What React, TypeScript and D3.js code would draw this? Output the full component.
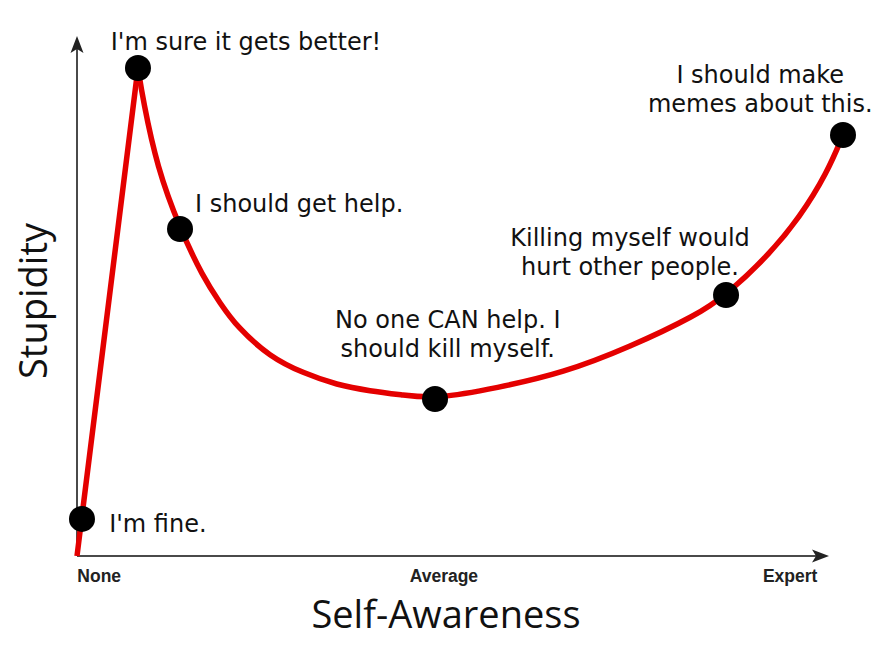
import React from "react";
import * as d3 from "d3";

// Data (x: self-awareness 0..100, y: stupidity 0..100)
const riseX = [0, 7.96];
const riseY = [0, 100];
const curveX = [7.96, 8.62, 10.44, 13.45, 16.45, 18.67, 20.89, 25.2, 29.5, 33.94, 38.25, 42.56, 46.74, 54.83, 63.45, 72.19, 80.94, 84.73, 90.08, 94.39, 97.91, 100];
const curveY = [100, 93.44, 79.71, 67.01, 57.17, 51.84, 46.93, 40.78, 37.5, 35.04, 33.81, 32.99, 32.17, 34.43, 37.5, 42.83, 49.39, 53.48, 61.27, 69.47, 78.48, 86.27];

const dotX = [0.65, 7.96, 13.45, 46.74, 84.73, 100];
const dotY = [7.6, 100, 67.01, 32.17, 53.48, 86.27];

const noteLines = [
  ["I'm fine."],
  ["I'm sure it gets better!"],
  ["I should get help."],
  ["No one CAN help. I", "should kill myself."],
  ["Killing myself would", "hurt other people."],
  ["I should make", "memes about this."],
];
const noteX = [4.2, 4.4, 15.4, 48.4, 72.2, 89.2];
const noteY = [4.9, 103.7, 70.5, 46.7, 63.5, 96.9];
const noteAnchor = ["start", "start", "start", "middle", "middle", "middle"];

const tickLabels = ["None", "Average", "Expert"];
const tickPos = [2.9, 47.9, 93.1];

const xTitle = "Self-Awareness";
const yTitle = "Stupidity";

const W = 894;
const H = 658;

export default function App() {
  const x = d3.scaleLinear().domain([0, 100]).range([77, 843]);
  const y = d3.scaleLinear().domain([0, 100]).range([556, 68]);

  const riseLine = d3
    .line<number>()
    .x((d) => x(riseX[d]))
    .y((d) => y(riseY[d]))
    .curve(d3.curveLinear);
  const mainLine = d3
    .line<number>()
    .x((d) => x(curveX[d]))
    .y((d) => y(curveY[d]))
    .curve(d3.curveBasis);

  const ox = x(0);
  const oy = y(0);
  const axisColor = "#4a4a4a";
  const red = "#e40000";
  const font = "'DejaVu Sans', sans-serif";

  return (
    <svg
      width={W}
      height={H}
      style={{ position: "absolute", left: 0, top: 0, background: "#fff" }}
    >
      <rect width={W} height={H} fill="#fff" />
      {/* axes */}
      <line x1={ox} y1={oy} x2={ox} y2={44} stroke={axisColor} strokeWidth={2} />
      <path
        d={`M${ox},36 L${ox + 6.5},53 L${ox},49 L${ox - 6.5},53 Z`}
        fill="#222"
      />
      <line x1={ox} y1={oy} x2={822} y2={oy} stroke={axisColor} strokeWidth={2} />
      <path
        d={`M829,${oy} L812,${oy - 6.5} L816,${oy} L812,${oy + 6.5} Z`}
        fill="#222"
      />
      {/* ticks */}
      {tickLabels.map((t, i) => (
        <text
          key={t}
          x={x(tickPos[i])}
          y={582}
          textAnchor="middle"
          fontFamily="'Liberation Sans', Arial, sans-serif"
          fontWeight="bold"
          fontSize={17.5}
          fill="#222"
        >
          {t}
        </text>
      ))}
      {/* titles */}
      <text
        x={446}
        y={628}
        textAnchor="middle"
        fontFamily="'Open Sans', sans-serif"
        fontSize={38}
        fill="#111"
      >
        {xTitle}
      </text>
      <text
        transform={`translate(47,301) rotate(-90)`}
        textAnchor="middle"
        fontFamily="'Open Sans', sans-serif"
        fontSize={38}
        fill="#111"
      >
        {yTitle}
      </text>
      {/* curve */}
      <path
        d={riseLine(riseX.map((_, i) => i)) || ""}
        fill="none"
        stroke={red}
        strokeWidth={5.5}
        strokeLinejoin="round"
      />
      <path
        d={mainLine(curveX.map((_, i) => i)) || ""}
        fill="none"
        stroke={red}
        strokeWidth={5.5}
        strokeLinecap="round"
      />
      {/* dots */}
      {dotX.map((d, i) => (
        <circle key={i} cx={x(d)} cy={y(dotY[i])} r={13} fill="#000" />
      ))}
      {/* notes */}
      {noteLines.map((lines, i) => (
        <text
          key={i}
          x={x(noteX[i])}
          y={y(noteY[i])}
          textAnchor={noteAnchor[i]}
          fontFamily={font}
          fontSize={24}
          fill="#111"
        >
          {lines.map((l, j) => (
            <tspan key={j} x={x(noteX[i])} dy={j === 0 ? 0 : 29}>
              {l}
            </tspan>
          ))}
        </text>
      ))}
    </svg>
  );
}
